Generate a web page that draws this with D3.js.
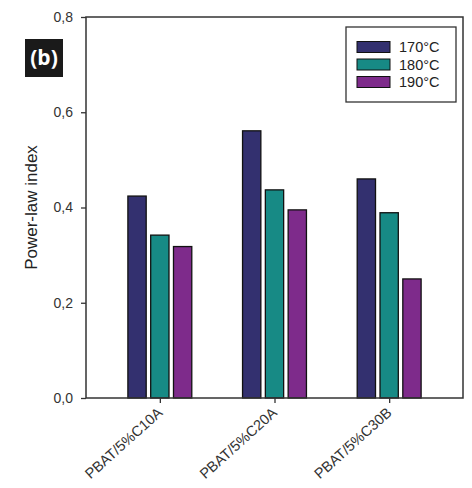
<!DOCTYPE html>
<html lang="en">
<head>
    <meta charset="UTF-8">
    <title>Power-law index</title>
    <script src="https://d3js.org/d3.v7.min.js"></script>
    <style>
        body { margin: 0; background: #fff; }
        svg { display: block; font-family: "Liberation Sans", Arial, sans-serif; }
    </style>
</head>
<body>
    <svg width="472" height="488"></svg>
    <script>
        const samples = ["PBAT/5%C10A", "PBAT/5%C20A", "PBAT/5%C30B"];
        const temps = ["170°C", "180°C", "190°C"];
        const t170 = [0.424, 0.561, 0.460];
        const t180 = [0.342, 0.437, 0.389];
        const t190 = [0.318, 0.395, 0.250];
        const yTicks = [0, 0.2, 0.4, 0.6, 0.8];
        const colors = ["#33306f", "#178a85", "#7e2b8b"];

        const series = [t170, t180, t190];
        const svg = d3.select("svg");
        const plotL = 86, plotR = 463, plotT = 17, plotB = 398;

        const x = d3.scalePoint().domain(samples).range([plotL, plotR]).padding(0.644);
        const y = d3.scaleLinear().domain([0, 0.8]).range([plotB, plotT]);
        const barW = 18.3, barStep = 22.8;

        // bars
        series.forEach((vals, si) => {
            svg.append("g").selectAll("rect").data(vals).enter().append("rect")
                .attr("x", (d, i) => x(samples[i]) + (si - 1) * barStep - barW / 2)
                .attr("y", d => y(d))
                .attr("width", barW)
                .attr("height", d => y(0) - y(d))
                .attr("fill", colors[si])
                .attr("stroke", "#111")
                .attr("stroke-width", 1.3);
        });

        // frame
        svg.append("rect")
            .attr("x", plotL).attr("y", plotT)
            .attr("width", plotR - plotL).attr("height", plotB - plotT)
            .attr("fill", "none").attr("stroke", "#333").attr("stroke-width", 1.5);

        // y axis
        const yAxis = svg.append("g")
            .attr("transform", `translate(${plotL},0)`)
            .call(d3.axisLeft(y).tickValues(yTicks).tickSize(5).tickPadding(8)
                .tickFormat(d => d3.format(".1f")(d).replace(".", ",")));
        yAxis.select(".domain").remove();
        yAxis.selectAll("line").attr("stroke", "#333").attr("stroke-width", 1.3);
        yAxis.selectAll("text").attr("font-size", 14).attr("fill", "#333")
            .attr("font-family", "Liberation Sans, Arial, sans-serif");

        // x axis
        const xAxis = svg.append("g")
            .attr("transform", `translate(0,${plotB})`)
            .call(d3.axisBottom(x).tickSize(5));
        xAxis.select(".domain").remove();
        xAxis.selectAll("line").attr("stroke", "#333").attr("stroke-width", 1.3);
        xAxis.selectAll("text")
            .attr("font-size", 14.5).attr("fill", "#333")
            .attr("font-family", "Liberation Sans, Arial, sans-serif")
            .attr("text-anchor", "end")
            .attr("y", 0).attr("dy", 0)
            .attr("transform", "translate(3,16) rotate(-42)");

        // y title
        svg.append("text")
            .attr("transform", `translate(37,${(plotT + plotB) / 2}) rotate(-90)`)
            .attr("text-anchor", "middle")
            .attr("font-size", 17).attr("fill", "#222")
            .text("Power-law index");

        // legend
        const lg = svg.append("g");
        lg.append("rect").attr("x", 346).attr("y", 27).attr("width", 110).attr("height", 75)
            .attr("fill", "#fff").attr("stroke", "#333").attr("stroke-width", 1.3);
        temps.forEach((t, i) => {
            const cy = 47 + i * 17.5;
            lg.append("rect").attr("x", 357).attr("y", cy - 5.5).attr("width", 33).attr("height", 11)
                .attr("fill", colors[i]).attr("stroke", "#111").attr("stroke-width", 1);
            lg.append("text").attr("x", 399).attr("y", cy).attr("dy", "0.35em")
                .attr("font-size", 14.5).attr("fill", "#222").text(t);
        });

        // panel label
        svg.append("rect").attr("x", 25).attr("y", 39).attr("width", 38).attr("height", 38).attr("fill", "#1a1a1a");
        svg.append("text").attr("x", 44).attr("y", 58).attr("dy", "0.35em")
            .attr("text-anchor", "middle").attr("font-size", 21).attr("font-weight", "bold")
            .attr("fill", "#fff").attr("font-family", "Open Sans, sans-serif").text("(b)");
    </script>
</body>
</html>
